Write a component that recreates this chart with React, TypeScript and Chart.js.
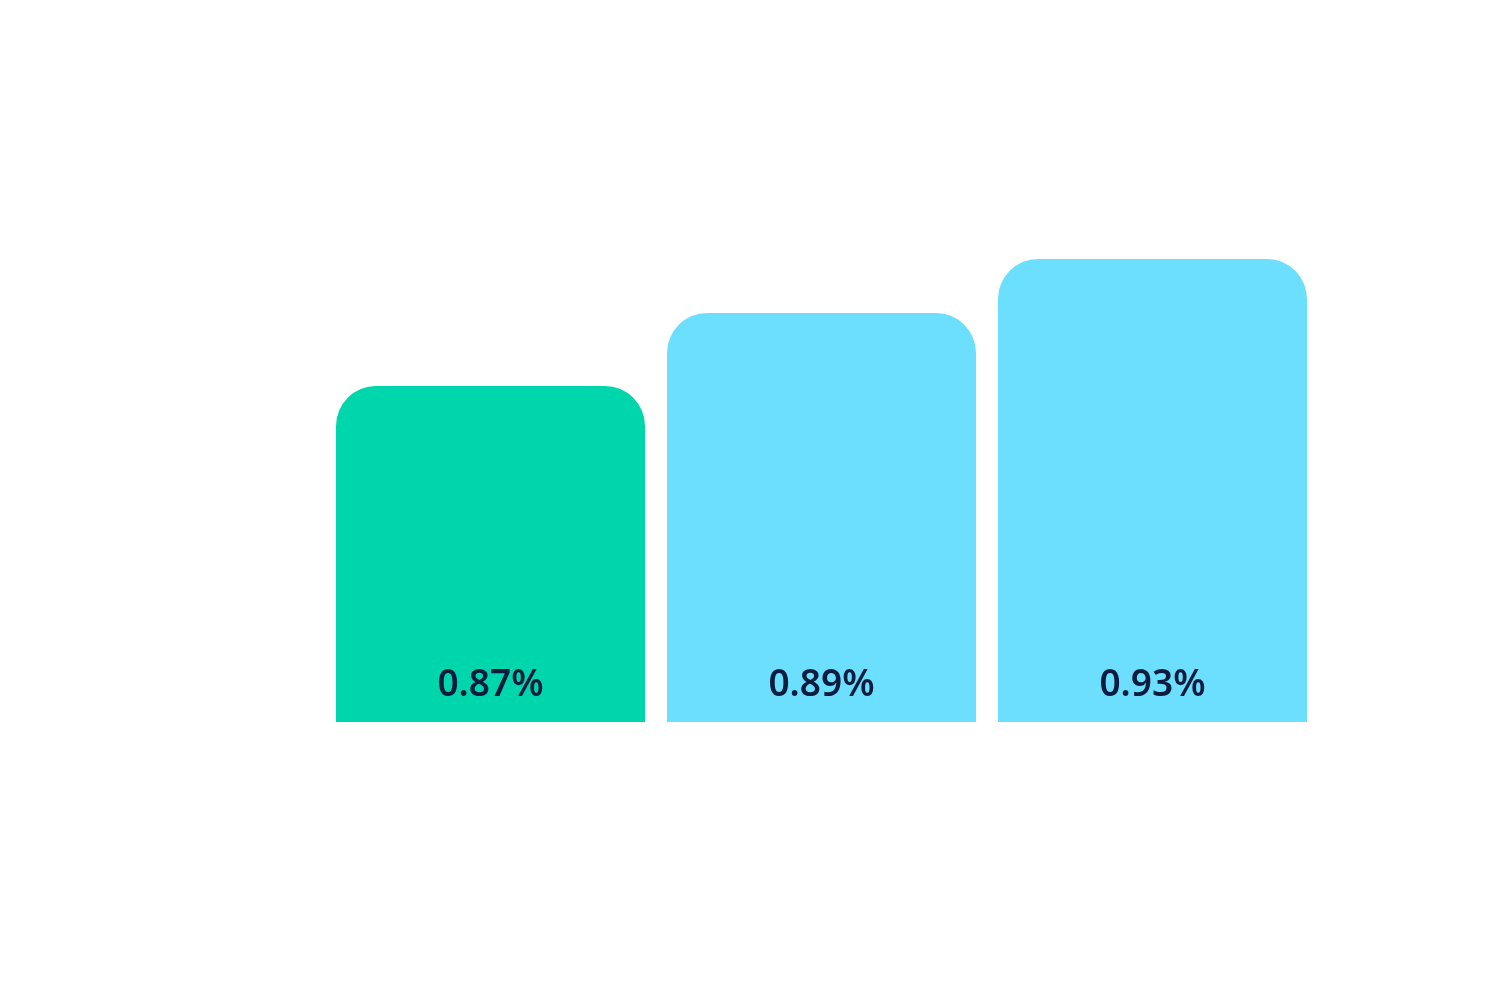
import React, { useEffect, useRef } from "react";
import { Chart, registerables } from "chart.js";

Chart.register(...registerables);

const categories = ["A", "B", "C"];
const displayValues = [0.87, 0.89, 0.93];
const barHeights = [0.672, 0.818, 0.926];
const barColors = ["#00D6AC", "#6CDFFF", "#6CDFFF"];

const labelPlugin = {
  id: "valueLabels",
  afterDatasetsDraw(chart: any) {
    const ctx = chart.ctx;
    const meta = chart.getDatasetMeta(0);
    ctx.save();
    ctx.font = "600 37px 'Noto Sans', Inter, sans-serif";
    ctx.fillStyle = "#0B1D3F";
    ctx.textAlign = "center";
    ctx.textBaseline = "alphabetic";
    meta.data.forEach((bar: any, i: number) => {
      ctx.fillText(displayValues[i].toFixed(2) + "%", bar.x, chart.chartArea.bottom - 26);
    });
    ctx.restore();
  },
};

export default function App() {
  const ref = useRef<HTMLCanvasElement | null>(null);
  useEffect(() => {
    if (!ref.current) return;
    const chart = new Chart(ref.current, {
      type: "bar",
      data: {
        labels: categories,
        datasets: [
          {
            data: barHeights,
            backgroundColor: barColors,
            borderRadius: { topLeft: 40, topRight: 40, bottomLeft: 0, bottomRight: 0 },
            borderSkipped: false,
            barPercentage: 309 / 331,
            categoryPercentage: 1,
          },
        ],
      },
      options: {
        animation: false,
        responsive: true,
        maintainAspectRatio: false,
        layout: { padding: { left: 325, right: 182, top: 222, bottom: 278 } },
        plugins: { legend: { display: false }, tooltip: { enabled: false } },
        scales: {
          x: { display: false },
          y: { display: false, min: 0, max: 1 },
        },
      },
      plugins: [labelPlugin],
    });
    return () => chart.destroy();
  }, []);
  return (
    <div style={{ position: "fixed", left: 0, top: 0, width: 1500, height: 1000, background: "#fff" }}>
      <canvas ref={ref} />
    </div>
  );
}
